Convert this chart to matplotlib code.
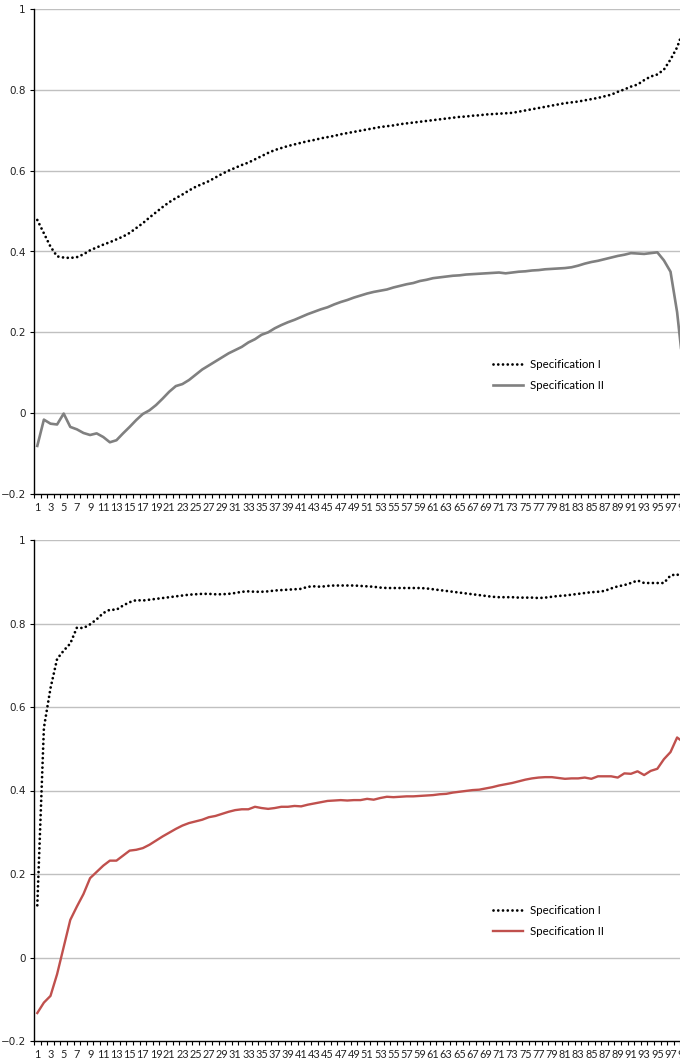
import matplotlib
matplotlib.use("Agg")
import matplotlib.pyplot as plt
from matplotlib.ticker import FixedLocator, FixedFormatter, NullFormatter

categories = list(range(1, 100))

top_spec1 = [0.478, 0.445, 0.412, 0.388, 0.385, 0.384, 0.386, 0.393, 0.403, 0.410,
             0.417, 0.423, 0.430, 0.437, 0.446, 0.458, 0.470, 0.484, 0.497, 0.510,
             0.522, 0.532, 0.541, 0.551, 0.560, 0.567, 0.574, 0.583, 0.592, 0.600,
             0.607, 0.614, 0.620, 0.628, 0.636, 0.644, 0.651, 0.656, 0.661, 0.665,
             0.669, 0.673, 0.676, 0.680, 0.683, 0.686, 0.690, 0.693, 0.696, 0.699,
             0.702, 0.705, 0.708, 0.710, 0.712, 0.715, 0.717, 0.719, 0.721, 0.723,
             0.725, 0.727, 0.729, 0.731, 0.733, 0.734, 0.736, 0.737, 0.739, 0.740,
             0.741, 0.742, 0.743, 0.746, 0.749, 0.752, 0.755, 0.758, 0.761, 0.764,
             0.767, 0.769, 0.771, 0.774, 0.777, 0.780, 0.784, 0.788, 0.795, 0.801,
             0.808, 0.813, 0.824, 0.833, 0.838, 0.850, 0.875, 0.905, 0.950]

top_spec2 = [-0.081, -0.016, -0.026, -0.028, -0.001, -0.034, -0.040, -0.049, -0.054, -0.050,
             -0.059, -0.072, -0.067, -0.050, -0.034, -0.017, -0.002, 0.007, 0.020, 0.036,
             0.053, 0.067, 0.072, 0.082, 0.095, 0.108, 0.118, 0.128, 0.138, 0.148,
             0.156, 0.164, 0.175, 0.183, 0.194, 0.200, 0.210, 0.218, 0.225, 0.231,
             0.238, 0.245, 0.251, 0.257, 0.262, 0.269, 0.275, 0.280, 0.286, 0.291,
             0.296, 0.300, 0.303, 0.306, 0.311, 0.315, 0.319, 0.322, 0.327, 0.330,
             0.334, 0.336, 0.338, 0.340, 0.341, 0.343, 0.344, 0.345, 0.346, 0.347,
             0.348, 0.346, 0.348, 0.350, 0.351, 0.353, 0.354, 0.356, 0.357, 0.358,
             0.359, 0.361, 0.365, 0.370, 0.374, 0.377, 0.381, 0.385, 0.389, 0.392,
             0.396, 0.395, 0.394, 0.396, 0.398, 0.378, 0.350, 0.250, 0.100]

bot_spec1 = [0.125, 0.550, 0.645, 0.715, 0.735, 0.752, 0.790, 0.789, 0.798, 0.810,
             0.825, 0.833, 0.833, 0.843, 0.851, 0.856, 0.855, 0.857, 0.859, 0.861,
             0.863, 0.865, 0.867, 0.869, 0.870, 0.871, 0.871, 0.870, 0.870, 0.871,
             0.873, 0.876, 0.877, 0.876, 0.876, 0.877, 0.879, 0.880, 0.881, 0.882,
             0.883, 0.888, 0.889, 0.888, 0.890, 0.891, 0.891, 0.891, 0.891, 0.890,
             0.889, 0.888, 0.886, 0.885, 0.885, 0.885, 0.885, 0.885, 0.885, 0.884,
             0.882, 0.880, 0.878, 0.876, 0.874, 0.872, 0.870, 0.868, 0.866, 0.864,
             0.863, 0.863, 0.863, 0.862, 0.862, 0.862, 0.861, 0.862, 0.864, 0.866,
             0.867, 0.869, 0.871, 0.873, 0.875, 0.876, 0.878, 0.884, 0.889, 0.892,
             0.897, 0.903, 0.897, 0.897, 0.897, 0.897, 0.915, 0.918, 0.905]

bot_spec2 = [-0.133, -0.108, -0.092, -0.040, 0.025, 0.090, 0.122, 0.152, 0.190, 0.205,
             0.220, 0.232, 0.232, 0.244, 0.256, 0.258, 0.262, 0.270, 0.280, 0.290,
             0.299, 0.308, 0.316, 0.322, 0.326, 0.330, 0.336, 0.339, 0.344, 0.349,
             0.353, 0.355, 0.355, 0.361, 0.358, 0.356, 0.358, 0.361, 0.361, 0.363,
             0.362, 0.366, 0.369, 0.372, 0.375, 0.376, 0.377, 0.376, 0.377, 0.377,
             0.380, 0.378, 0.382, 0.385, 0.384, 0.385, 0.386, 0.386, 0.387, 0.388,
             0.389, 0.391, 0.392, 0.395, 0.397, 0.399, 0.401, 0.402, 0.405, 0.408,
             0.412, 0.415, 0.418, 0.422, 0.426, 0.429, 0.431, 0.432, 0.432, 0.430,
             0.428, 0.429, 0.429, 0.431, 0.428, 0.434, 0.434, 0.434, 0.431, 0.441,
             0.440, 0.446, 0.437, 0.447, 0.452, 0.475, 0.492, 0.527, 0.515]

y_ticks = [-0.2, 0, 0.2, 0.4, 0.6, 0.8, 1.0]
y_tick_labels = ["\u22120.2", "0", "0.2", "0.4", "0.6", "0.8", "1"]
legend_labels = ["Specification I", "Specification II"]

W, H = 680, 1061
fig = plt.figure(figsize=(W / 100, H / 100), dpi=100)
fig.patch.set_facecolor("white")

left_px, right_px = 34, 687


def make_axes(top_px, bottom_px):
    return fig.add_axes([left_px / W, 1 - bottom_px / H,
                         (right_px - left_px) / W, (bottom_px - top_px) / H])


def style_axes(ax):
    ax.set_xlim(0.5, 99.5)
    ax.set_ylim(-0.2, 1.0)
    for s in ["top", "right"]:
        ax.spines[s].set_visible(False)
    ax.spines["left"].set_color("#000000")
    ax.spines["left"].set_linewidth(1.0)
    ax.spines["bottom"].set_color("#000000")
    ax.spines["bottom"].set_linewidth(1.0)
    ax.yaxis.set_major_locator(FixedLocator(y_ticks))
    ax.yaxis.set_major_formatter(FixedFormatter(y_tick_labels))
    ax.tick_params(axis="y", direction="out", length=3, width=0.8, pad=3,
                   labelsize=7.5, colors="#000000", labelcolor="#222222")
    for lab in ax.get_yticklabels():
        lab.set_family("DejaVu Sans")
    odd = [c for c in categories if c % 2 == 1]
    ax.xaxis.set_major_locator(FixedLocator(odd))
    ax.xaxis.set_major_formatter(FixedFormatter([str(c) for c in odd]))
    ax.xaxis.set_minor_locator(FixedLocator([c - 0.5 for c in categories] + [99.5]))
    ax.xaxis.set_minor_formatter(NullFormatter())
    ax.tick_params(axis="x", which="major", length=0, pad=6, labelsize=7.8,
                   labelcolor="#222222")
    ax.tick_params(axis="x", which="minor", direction="out", length=3, width=0.8,
                   colors="#000000")
    for lab in ax.get_xticklabels():
        lab.set_family("Lato")
    for yv in y_ticks[1:]:
        ax.axhline(yv, color="#c0c0c0", linewidth=1.0, zorder=0)


dot_style = dict(color="#000000", linewidth=2.0, linestyle=(0, (0.01, 1.7)),
                 dash_capstyle="round")

legend_kw = dict(loc="center left", bbox_transform=fig.transFigure,
                 frameon=False, borderpad=0, borderaxespad=0, handlelength=2.6,
                 handletextpad=0.6, labelspacing=0.8,
                 prop={"family": "Lato", "size": 8.3})

ax1 = make_axes(9, 494)
style_axes(ax1)
l1, = ax1.plot(categories, top_spec1, **dot_style)
l2, = ax1.plot(categories, top_spec2, color="#808080", linewidth=1.9,
               solid_joinstyle="round")
ax1.legend([l1, l2], legend_labels, bbox_to_anchor=(493 / W, 1 - 375 / H), **legend_kw)

ax2 = make_axes(540, 1041)
style_axes(ax2)
m1, = ax2.plot(categories, bot_spec1, **dot_style)
m2, = ax2.plot(categories, bot_spec2, color="#c0504d", linewidth=1.7,
               solid_joinstyle="round")
ax2.legend([m1, m2], legend_labels, bbox_to_anchor=(493 / W, 1 - 921 / H), **legend_kw)

fig.savefig("out.png", dpi=100, facecolor="white")
